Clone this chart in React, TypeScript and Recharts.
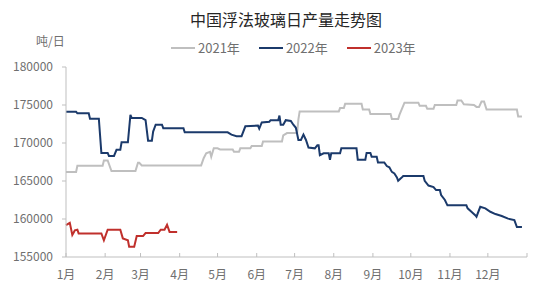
import React from 'react';
import { LineChart, Line, XAxis, YAxis } from 'recharts';

// x axis: day of year, ticks at the first of each month
const monthStarts = [0, 31, 59, 90, 120, 151, 181, 212, 243, 273, 304, 334, 365];
const monthLabels = ['1月', '2月', '3月', '4月', '5月', '6月', '7月', '8月', '9月', '10月', '11月', '12月', ''];
const yTicks = [155000, 160000, 165000, 170000, 175000, 180000];

const seriesNames = ['2021年', '2022年', '2023年'];
const seriesColors = ['#bfbfbf', '#1b3a6b', '#c0302c'];

// 2021 (turning points)
const days2021 = [0, 8, 9, 29, 30, 33, 36, 55, 57, 58, 60, 107, 109, 111, 114, 115, 117, 120, 122, 132, 133, 137, 138, 146, 147, 155, 156, 171, 172, 175, 183, 184, 185, 216, 217, 220, 221, 234, 235, 240, 241, 257, 258, 263, 264, 268, 279, 280, 285, 286, 291, 292, 309, 310, 313, 315, 323, 325, 327, 329, 331, 333, 357, 358, 361];
const values2021 = [166200, 166200, 167000, 167000, 167700, 167700, 166300, 166300, 167400, 167400, 167050, 167050, 168000, 168650, 168850, 168200, 169300, 169300, 169150, 169150, 168850, 168850, 169300, 169300, 169600, 169600, 170200, 170200, 171000, 171300, 171300, 173100, 174150, 174150, 174600, 174600, 175150, 175150, 174400, 174400, 173800, 173800, 173150, 173150, 173700, 175300, 175300, 174900, 174900, 174500, 174500, 175000, 175000, 175600, 175600, 175100, 175000, 174750, 174750, 175450, 175450, 174400, 174400, 173500, 173500];

// 2022
const days2022 = [0, 8, 9, 18, 19, 26, 28, 33, 34, 38, 40, 43, 44, 49, 51, 52, 60, 63, 65, 68, 69, 71, 76, 77, 93, 94, 128, 131, 135, 139, 142, 152, 153, 155, 161, 162, 168, 169, 170, 172, 174, 178, 180, 182, 184, 186, 188, 190, 192, 197, 199, 200, 201, 204, 208, 209, 210, 217, 218, 230, 231, 237, 238, 241, 242, 246, 247, 252, 254, 256, 258, 260, 262, 263, 266, 267, 283, 284, 287, 291, 293, 296, 297, 300, 302, 317, 318, 321, 324, 325, 328, 332, 336, 340, 345, 350, 355, 357, 361];
const values2022 = [174100, 174100, 173900, 173900, 173200, 173200, 168700, 168700, 168300, 168300, 169100, 169100, 170100, 170100, 173700, 173300, 173300, 173000, 170300, 170300, 171500, 172400, 172400, 171950, 171950, 171400, 171400, 171100, 170900, 170900, 172200, 172300, 171900, 172700, 172800, 173000, 173000, 173600, 172400, 172400, 173000, 172900, 172400, 172000, 170400, 170400, 171100, 170400, 169400, 169300, 169700, 169700, 168400, 168650, 168650, 167800, 168650, 168650, 169300, 169300, 167800, 167800, 168700, 168700, 168200, 168200, 167450, 167450, 166970, 166800, 166200, 166000, 165480, 165030, 165480, 165650, 165650, 165030, 164400, 164200, 163800, 163800, 163150, 162500, 161800, 161800, 161400, 160950, 160500, 160300, 161600, 161400, 160950, 160650, 160400, 160050, 159850, 158950, 158950];

// 2023
const days2023 = [0, 3, 5, 7, 9, 10, 28, 30, 33, 43, 45, 49, 50, 54, 56, 61, 63, 73, 75, 78, 80, 82, 88];
const values2023 = [159200, 159500, 157900, 158500, 158600, 158100, 158100, 157200, 158600, 158600, 157450, 157200, 156350, 156350, 157750, 157750, 158150, 158150, 158600, 158600, 159250, 158300, 158300];

const toPoints = (days: number[], values: number[]) => days.map((d, i) => ({ day: d, value: values[i] }));
const seriesData = [toPoints(days2021, values2021), toPoints(days2022, values2022), toPoints(days2023, values2023)];

const FONT = '"Noto Sans CJK SC", "Noto Sans", sans-serif';
const TEXT = '#6f6f6f';

export default function App() {
  return (
    <div style={{ position: 'absolute', left: 0, top: 0, width: 550, height: 298, background: '#fff', fontFamily: FONT }}>
      <div style={{ position: 'absolute', left: 0, width: 550, top: 7, textAlign: 'center', fontSize: 16, color: '#262626', paddingLeft: 22, boxSizing: 'border-box' }}>
        中国浮法玻璃日产量走势图
      </div>
      <div style={{ position: 'absolute', left: 36, top: 32, fontSize: 12, color: TEXT }}>吨/日</div>
      <div style={{ position: 'absolute', left: 171, top: 38, display: 'flex', fontSize: 13, color: TEXT }}>
        {seriesNames.map((name, i) => (
          <div key={name} style={{ display: 'flex', alignItems: 'center', marginRight: 19 }}>
            <div style={{ width: 24, height: 2, background: seriesColors[i], marginRight: 3 }} />
            <span>{name}</span>
          </div>
        ))}
      </div>
      <LineChart width={550} height={298} margin={{ top: 67, right: 23, bottom: 0, left: 0 }}>
        <XAxis
          type="number"
          dataKey="day"
          domain={[0, 365]}
          ticks={monthStarts}
          interval={0}
          tickFormatter={(v: number) => monthLabels[monthStarts.indexOf(v)]}
          stroke="#bfbfbf"
          tickSize={-4}
          tickMargin={17}
          height={41}
          tick={{ fill: TEXT, fontSize: 12, fontFamily: FONT }}
        />
        <YAxis
          type="number"
          domain={[155000, 180000]}
          ticks={yTicks}
          interval={0}
          width={66}
          stroke="#bfbfbf"
          tickSize={4}
          tickMargin={9}
          tick={{ fill: TEXT, fontSize: 12, fontFamily: FONT }}
        />
        {seriesData.map((data, i) => (
          <Line
            key={seriesNames[i]}
            data={data}
            dataKey="value"
            type="linear"
            stroke={seriesColors[i]}
            strokeWidth={2}
            dot={false}
            activeDot={false}
            isAnimationActive={false}
          />
        ))}
      </LineChart>
    </div>
  );
}
